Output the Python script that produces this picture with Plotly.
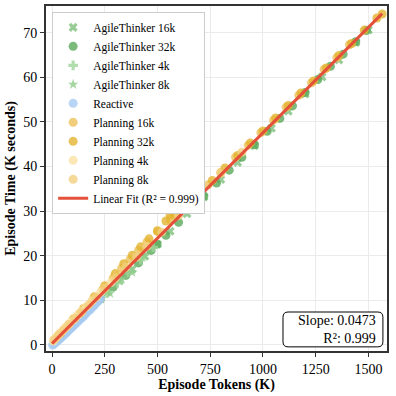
import plotly.graph_objects as go

# # Data (tokens in K, time in K seconds)
reactive_x = [3, 8, 14, 20, 26, 32, 38, 44, 50, 56, 62, 70, 78, 86, 94, 102, 110, 118, 126, 134, 142, 150, 158, 166, 174, 182, 190, 198, 206, 214, 222, 230]
reactive_y = [0.0, 0.2, 0.4, 0.7, 0.9, 1.2, 1.4, 1.7, 2.0, 2.2, 2.5, 2.8, 3.2, 3.6, 3.9, 4.3, 4.7, 5.0, 5.4, 5.8, 6.1, 6.5, 6.9, 7.3, 7.7, 8.0, 8.4, 8.8, 9.2, 9.6, 10.0, 10.4]

plan4_x = [6, 18, 32, 48, 64, 82, 100, 120, 140, 160, 190, 230, 280]
plan4_y = [0.9, 1.6, 2.3, 3.1, 3.9, 4.8, 5.6, 6.6, 7.5, 8.5, 9.9, 11.8, 14.0]

plan8_x = [10, 30, 55, 80, 110, 140, 175, 210, 250, 300, 350, 400, 450, 520, 600, 700, 800, 900]
plan8_y = [1.2, 2.2, 3.4, 4.6, 6.0, 7.4, 9.0, 10.7, 12.7, 15.0, 17.4, 19.7, 22.1, 25.3, 29.0, 33.8, 38.5, 43.2]

plan16_x = [20, 70, 130, 190, 240, 290, 330, 370, 410, 450, 500, 560, 620, 680, 740, 800, 870, 930, 990, 1050, 1110, 1170, 1230, 1290, 1350, 1410]
plan16_y = [1.6, 4.1, 7.0, 9.9, 12.4, 15.0, 17.2, 19.2, 21.2, 23.1, 25.4, 28.2, 30.8, 33.4, 35.9, 38.7, 42.1, 44.8, 47.6, 50.4, 53.3, 56.0, 58.8, 61.8, 64.4, 67.3]

plan32_x = [40, 100, 150, 200, 250, 300, 340, 380, 420, 460, 500, 540, 560, 580, 620, 660, 700, 760, 820, 880, 940, 1000, 1060, 1120, 1180, 1240, 1300, 1360, 1420, 1480, 1540, 1565]
plan32_y = [2.6, 5.8, 8.2, 10.8, 13.3, 16.0, 18.2, 20.1, 22.0, 23.8, 25.6, 27.8, 29.1, 29.3, 31.0, 32.6, 34.2, 36.9, 39.7, 42.5, 45.3, 48.0, 50.9, 53.7, 56.5, 59.2, 62.1, 64.9, 67.6, 70.6, 73.3, 74.2]

agile4_x = [170, 210, 260, 310, 360, 420, 480]
agile4_y = [7.6, 9.4, 11.6, 13.9, 16.2, 19.1, 21.9]

agile8_x = [180, 230, 275, 330, 380, 440]
agile8_y = [8.0, 10.3, 11.6, 14.8, 16.3, 20.0]

agile16_x = [200, 260, 320, 380, 440, 500, 560, 640, 720, 800, 880, 960, 1040, 1120, 1200, 1280, 1360, 1440, 1500]
agile16_y = [9.1, 11.8, 14.4, 17.0, 19.9, 22.6, 25.5, 29.4, 33.2, 37.1, 40.9, 44.7, 48.6, 52.4, 56.3, 60.1, 63.9, 67.8, 70.6]

agile32_x = [230, 290, 350, 410, 470, 498, 540, 600, 660, 720, 780, 840, 900, 960, 1020, 1080, 1140, 1200, 1260, 1320, 1380, 1440, 1490]
agile32_y = [10.3, 13.0, 15.6, 18.4, 21.2, 22.6, 24.6, 27.5, 30.4, 33.4, 36.3, 39.2, 42.1, 44.9, 47.9, 50.8, 53.6, 56.6, 59.5, 62.5, 65.2, 68.0, 70.5]

fit_x = [0, 1565]
fit_y = [0.3, 74.3]

slope_text = "Slope: 0.0473<br>R²: 0.999"

serif = 'Liberation Serif, Times New Roman, serif'

fig = go.Figure()

# # Scatter groups
groups = [
    ("AgileThinker 16k", agile16_x, agile16_y, "x", "#7dbf7d", 8),
    ("AgileThinker 32k", agile32_x, agile32_y, "circle", "#5aa95a", 9),
    ("AgileThinker 4k", agile4_x, agile4_y, "cross", "#9fd49a", 8),
    ("AgileThinker 8k", agile8_x, agile8_y, "star", "#8fcc8a", 8),
    ("Reactive", reactive_x, reactive_y, "circle", "#a7cbf2", 9),
    ("Planning 16k", plan16_x, plan16_y, "circle", "#ecc25a", 9),
    ("Planning 32k", plan32_x, plan32_y, "circle", "#e3b430", 9),
    ("Planning 4k", plan4_x, plan4_y, "circle", "#fbe2a4", 9),
    ("Planning 8k", plan8_x, plan8_y, "circle", "#f3d080", 9),
]
for name, xs, ys, sym, col, sz in groups:
    fig.add_trace(go.Scatter(
        x=xs, y=ys, mode='markers', name=name,
        marker=dict(symbol=sym, color=col, size=sz, opacity=0.8, line=dict(width=0))
    ))

fig.add_trace(go.Scatter(
    x=fit_x, y=fit_y, mode='lines', name='Linear Fit (R² = 0.999)',
    line=dict(color='#e4503a', width=3)
))

# # Rounded box for the slope text
x0, x1, y0, y1, rx, ry = 0.695, 0.988, 0.012, 0.113, 0.015, 0.015
box_path = (f"M {x0+rx},{y0} L {x1-rx},{y0} Q {x1},{y0} {x1},{y0+ry} "
            f"L {x1},{y1-ry} Q {x1},{y1} {x1-rx},{y1} L {x0+rx},{y1} "
            f"Q {x0},{y1} {x0},{y1-ry} L {x0},{y0+ry} Q {x0},{y0} {x0+rx},{y0} Z")
fig.add_shape(type='path', path=box_path, xref='paper', yref='paper',
              line=dict(color='black', width=1), fillcolor='white', layer='above')

fig.add_annotation(
    x=0.974, y=0.062, xref='paper', yref='paper', xanchor='right', yanchor='middle',
    text=slope_text, showarrow=False, align='right',
    font=dict(family=serif, size=14, color='black')
)

axis_style = dict(showgrid=True, gridcolor='#ebebeb', showline=True, linecolor='#333333',
                  linewidth=2, mirror=True, ticks='outside', ticklen=4, tickcolor='#333333',
                  zeroline=False, automargin=False,
                  tickfont=dict(family=serif, size=14, color='black'))

fig.update_xaxes(range=[-28.5, 1588], tickvals=[0, 250, 500, 750, 1000, 1250, 1500],
                 title=dict(text='<b>Episode Tokens (K)</b>', font=dict(family=serif, size=14, color='black'), standoff=2),
                 **axis_style)
fig.update_yaxes(range=[-1.35, 76], tickvals=[0, 10, 20, 30, 40, 50, 60, 70],
                 title=dict(text='<b>Episode Time (K seconds)</b>', font=dict(family=serif, size=14, color='black'), standoff=4),
                 **axis_style)

fig.update_layout(
    width=396, height=396,
    margin=dict(l=46, r=9, t=6, b=45),
    plot_bgcolor='white', paper_bgcolor='white',
    font=dict(family=serif, color='black'),
    showlegend=True,
    legend=dict(x=0.018, y=0.983, xanchor='left', yanchor='top',
                bgcolor='white', bordercolor='#cccccc', borderwidth=1,
                font=dict(family=serif, size=11.5, color='black'),
                itemsizing='trace', tracegroupgap=0)
)

fig.write_html("out.html", config={'displayModeBar': False},
               post_script="document.body.style.margin='0';")
